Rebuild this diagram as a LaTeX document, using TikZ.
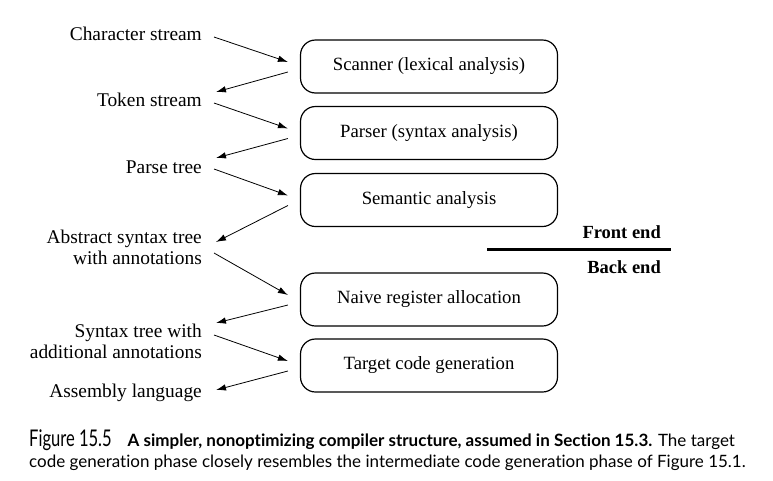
\documentclass[tikz,border=0pt]{standalone}
\usepackage{graphicx}
\usepackage{fontspec}
\setmainfont{Liberation Serif}
\newfontfamily\capfont[Ligatures=NoCommon]{Lato}
\usetikzlibrary{arrows.meta}

\begin{document}
\begin{tikzpicture}[
		x=1pt, y=-1pt,
		phase/.style={draw, line width=1.2pt, rounded corners=15pt, minimum width=257pt, minimum height=53pt, font=\fontsize{18.7}{21}\selectfont},
		data/.style={anchor=east, align=right, inner sep=0pt, font=\fontsize{19.4}{21}\selectfont},
		sidenote/.style={anchor=east, inner sep=0pt, font=\fontsize{18.5}{21}\selectfont\bfseries},
		flow/.style={-{Latex[length=10pt,width=6.5pt]}, line width=0.8pt},
		caption/.style={anchor=base west, inner sep=0pt, font=\capfont\fontsize{17}{19}\selectfont}]
	\useasboundingbox (0,0) rectangle (773,480);
	% phases
	\node[phase] (scan) at (429,66.5) {Scanner (lexical analysis)};
	\node[phase] (parse) at (429,133) {Parser (syntax analysis)};
	\node[phase] (sema) at (429,200) {Semantic analysis};
	\node[phase] (regs) at (429,299.5) {Naive register allocation};
	\node[phase] (gen) at (429,365.5) {Target code generation};
	% data between phases
	\node[data] (chars) at (202,34) {Character stream};
	\node[data] (tokens) at (202,100) {Token stream};
	\node[data] (ptree) at (202,167) {Parse tree};
	\node[data] (ast) at (202,247) {Abstract syntax tree\\with annotations};
	\node[data] (stree) at (202,341) {Syntax tree with\\additional annotations};
	\node[data] (asm) at (202,393) {Assembly language};
	\draw[flow] ([xshift=12pt,yshift=-3pt]chars.east) -- ([xshift=-12pt,yshift=4.5pt]scan.west);
	\draw[flow] ([xshift=-12pt,yshift=-5.5pt]scan.west) -- ([xshift=14pt,yshift=8pt]tokens.east);
	\draw[flow] ([xshift=12pt,yshift=-3pt]tokens.east) -- ([xshift=-12pt,yshift=4.5pt]parse.west);
	\draw[flow] ([xshift=-12pt,yshift=-5.5pt]parse.west) -- ([xshift=14pt,yshift=9pt]ptree.east);
	\draw[flow] ([xshift=12pt,yshift=-2pt]ptree.east) -- ([xshift=-12pt,yshift=4.5pt]sema.west);
	\draw[flow] ([xshift=-12pt,yshift=-5.5pt]sema.west) -- ([xshift=14pt,yshift=5pt]ast.east);
	\draw[flow] ([xshift=12pt,yshift=-6pt]ast.east) -- ([xshift=-12pt,yshift=4.5pt]regs.west);
	\draw[flow] ([xshift=-12pt,yshift=-5.5pt]regs.west) -- ([xshift=14pt,yshift=18pt]stree.east);
	\draw[flow] ([xshift=12pt,yshift=6pt]stree.east) -- ([xshift=-12pt,yshift=4.5pt]gen.west);
	\draw[flow] ([xshift=-12pt,yshift=-5.5pt]gen.west) -- ([xshift=14pt,yshift=3pt]asm.east);
	% front end / back end split
	\coordinate (cutl) at (487,249);
	\coordinate (cutr) at (671,249);
	\draw[line width=3pt] (cutl) -- (cutr);
	\node[sidenote] (front) at (661,232) {Front end};
	\node[sidenote] (back) at (661,267) {Back end};
	% caption
	\node[caption] (capa) at (29,446) {\scalebox{0.72}[1]{\fontsize{23}{23}\selectfont Figure 15.5}\hspace{16pt}{\bfseries A simpler, nonoptimizing compiler structure, assumed in Section 15.3.} The target};
	\node[caption] (capb) at (29,467) {code generation phase closely resembles the intermediate code generation phase of Figure 15.1.};
\end{tikzpicture}
\end{document}
